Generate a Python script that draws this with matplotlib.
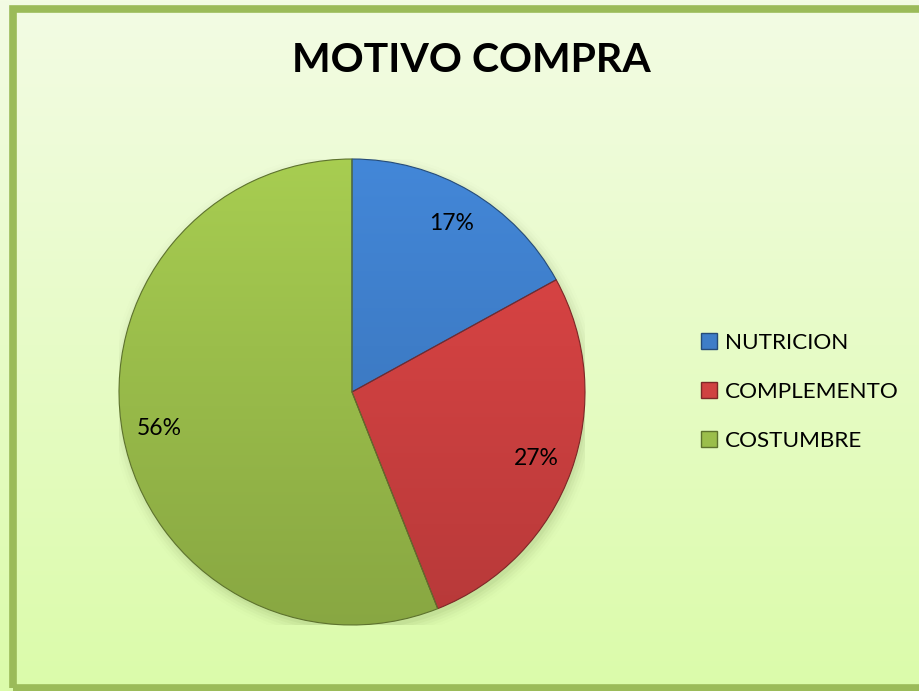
import numpy as np
import matplotlib.pyplot as plt
from matplotlib.colors import to_rgb
from matplotlib.patches import Rectangle, Patch

# datos
categorias = ["NUTRICION", "COMPLEMENTO", "COSTUMBRE"]
porcentajes = [17, 27, 56]
colores = ["#3E7DC8", "#D04141", "#9BBE4B"]
titulo = "MOTIVO COMPRA"

plt.rcParams['font.family'] = ['Lato', 'DejaVu Sans']

W, H = 920, 691
fig = plt.figure(figsize=(W / 100, H / 100), dpi=100)

# fondo con degradado
bg = fig.add_axes([0, 0, 1, 1])
top = np.array([243, 252, 228]) / 255
bot = np.array([219, 251, 170]) / 255
t = np.linspace(0, 1, 256)[:, None, None]
grad = top * (1 - t) + bot * t
bg.imshow(grad, aspect='auto', extent=[0, 1, 0, 1])
bg.add_patch(Rectangle((13 / W, 1 - 688 / H), 1.0, (688 - 9) / H, fill=False,
                       edgecolor="#9BBB59", lw=5.5, transform=bg.transAxes))
bg.set_xlim(0, 1)
bg.set_ylim(0, 1)
bg.axis('off')

fig.text(471 / W, 1 - 60 / H, titulo, ha='center', va='center',
         fontsize=29.5, fontweight='bold')

# pastel
cx, cy, r = 352, 392, 233
ax = fig.add_axes([(cx - r) / W, 1 - (cy + r) / H, 2 * r / W, 2 * r / H])
ax.set_xlim(-1, 1)
ax.set_ylim(-1, 1)
ax.axis('off')

# sombra suave
for i, a in enumerate(np.linspace(0.06, 0.01, 5)):
    sh = plt.Circle((0.01, -0.02), 1.0 + 0.012 * i, color='#556b2f', alpha=a, lw=0)
    ax.add_patch(sh)

def oscuro(c, f):
    return tuple(np.array(to_rgb(c)) * f)

wedges, textos, auto = ax.pie(
    porcentajes, colors=colores, startangle=90, counterclock=False,
    autopct='%d%%', pctdistance=0.84, radius=1.0,
    wedgeprops=dict(lw=0.8), textprops=dict(fontsize=16.5, color='black'))

for w, c in zip(wedges, colores):
    w.set_edgecolor(oscuro(c, 0.6))
    # degradado vertical dentro de cada porcion
    base = np.array(to_rgb(c))
    g = np.linspace(0, 1, 200)[:, None, None]
    img = base * (1.08 - 0.2 * g)
    img = np.clip(img, 0, 1)
    im = ax.imshow(img, extent=[-1, 1, -1, 1], aspect='auto', zorder=w.get_zorder() + 0.1)
    im.set_clip_path(w)

for w in wedges:
    w.set_facecolor('none')
    w.set_zorder(5)
for tx in auto:
    tx.set_zorder(6)

ax.set_xlim(-1, 1)
ax.set_ylim(-1, 1)

# leyenda
handles = [Patch(facecolor=c, edgecolor=oscuro(c, 0.6)) for c in colores]
fig.legend(handles, categorias, loc='center left',
           bbox_to_anchor=(681 / W, 1 - 392 / H), frameon=False,
           fontsize=16.2, labelspacing=1.3, handlelength=0.7,
           handleheight=0.7, handletextpad=0.35)

fig.savefig("out.png", dpi=100)
